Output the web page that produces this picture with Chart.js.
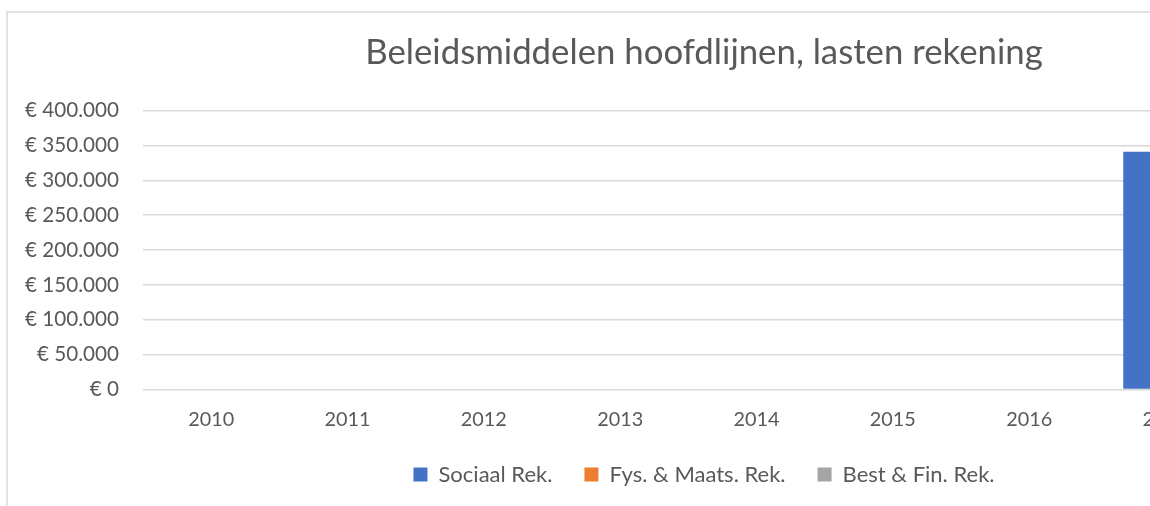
<!DOCTYPE html>
<html><head><meta charset="utf-8">
<script src="https://cdn.jsdelivr.net/npm/chart.js@4.4.0/dist/chart.umd.min.js"></script>
<style>
html,body{margin:0;padding:0;background:#fff;overflow:hidden;width:1150px;height:506px}
#frame{position:absolute;left:6px;top:11px;width:1500px;height:600px;border:2px solid #e2e2e2;box-sizing:border-box}
#wrap{position:absolute;left:0;top:0;width:1408px;height:506px}
</style></head><body>
<div id="frame"></div>
<div id="wrap"><canvas id="c"></canvas></div>
<script>
// ---- data ----
const categories = ['2010', '2011', '2012', '2013', '2014', '2015', '2016', '2017', '2018'];
const sociaalRek = [null, null, null, null, null, null, null, 341000, null];
const fysMaatsRek = [null, null, null, null, null, null, null, null, null];
const bestFinRek = [null, null, null, null, null, null, null, null, null];
const seriesNames = ['Sociaal Rek.', 'Fys. & Maats. Rek.', 'Best & Fin. Rek.'];
const yTicks = [0, 50000, 100000, 150000, 200000, 250000, 300000, 350000, 400000];
const titleText = 'Beleidsmiddelen hoofdlijnen, lasten rekening';

// ---- styling helpers ----
const FAMILY = 'Lato';
const mctx = document.createElement('canvas').getContext('2d');
function fitSize(text, width) {
  mctx.font = '100px ' + FAMILY;
  return 100 * width / mctx.measureText(text).width;
}
function metrics(text, size) {
  mctx.font = size + 'px ' + FAMILY;
  return mctx.measureText(text);
}
function fmt(v) {
  return '€ ' + String(v).replace(/\B(?=(\d{3})+(?!\d))/g, '.');
}

const W = 1408;
const PLOT_LEFT = 143, PLOT_RIGHT = 1370, PLOT_TOP = 110.5, PLOT_BOTTOM = 389.5, H = 506;

const titleSize = fitSize(titleText, 678);
const tm = metrics('B', titleSize);
const titleMid = 66.7 - (tm.fontBoundingBoxAscent - tm.fontBoundingBoxDescent) / 2;
const titlePadTop = titleMid - 0.6 * titleSize;
const titlePadBottom = PLOT_TOP - titlePadTop - 1.2 * titleSize;

const yTickSize = fitSize(fmt(400000), 94);
const xTickSize = fitSize('2010', 46);
const xm = metrics('2010', xTickSize);
const xMid = 420.5 - (xm.fontBoundingBoxAscent - xm.fontBoundingBoxDescent) / 2 + (xm.actualBoundingBoxAscent - xm.actualBoundingBoxDescent) / 2;
const xPad = xMid - PLOT_BOTTOM - 0.6 * xTickSize;

const legendSize = fitSize('Sociaal Rek.', 114);
const lm = metrics('Sociaal Rek.', legendSize);
const legMid = 475 - (lm.fontBoundingBoxAscent - lm.fontBoundingBoxDescent) / 2 + (lm.actualBoundingBoxAscent - lm.actualBoundingBoxDescent) / 2;
const LEG_PAD = 32, BOX = 14;
const itemH = Math.max(legendSize, BOX);
const legTop = legMid - LEG_PAD - itemH / 2;
const legBottom = legTop + itemH + LEG_PAD + 10;
const padBottom = H - legBottom;
const xAxisHeight = legTop - PLOT_BOTTOM;

Chart.defaults.font.family = FAMILY;
Chart.defaults.color = '#595959';

new Chart(document.getElementById('c'), {
  type: 'bar',
  data: {
    labels: categories,
    datasets: [
      { label: seriesNames[0], data: sociaalRek, backgroundColor: '#4472C4', borderWidth: 0 },
      { label: seriesNames[1], data: fysMaatsRek, backgroundColor: '#ED7D31', borderWidth: 0 },
      { label: seriesNames[2], data: bestFinRek, backgroundColor: '#A5A5A5', borderWidth: 0 }
    ]
  },
  options: {
    responsive: true,
    maintainAspectRatio: false,
    animation: false,
    layout: { padding: { left: 0, right: 0, top: 0, bottom: padBottom } },
    datasets: { bar: { categoryPercentage: 0.62, barPercentage: 1 } },
    plugins: {
      title: {
        display: true,
        text: titleText,
        color: '#595959',
        font: { size: titleSize, weight: 'normal', family: FAMILY },
        padding: { top: titlePadTop, bottom: titlePadBottom }
      },
      legend: {
        position: 'bottom',
        labels: {
          boxWidth: BOX, boxHeight: BOX,
          padding: LEG_PAD,
          color: '#595959',
          font: { size: legendSize, family: FAMILY }
        }
      },
      tooltip: { enabled: false }
    },
    scales: {
      x: {
        grid: { display: false, drawTicks: false },
        border: { display: false },
        ticks: { padding: xPad, font: { size: xTickSize }, color: '#595959', maxRotation: 0, autoSkip: false },
        afterFit: s => { s.height = xAxisHeight; }
      },
      y: {
        min: yTicks[0],
        max: yTicks[yTicks.length - 1],
        grid: { color: '#d9d9d9', lineWidth: 1.4, drawTicks: false },
        border: { display: false },
        ticks: {
          stepSize: yTicks[1] - yTicks[0],
          padding: 24,
          font: { size: yTickSize },
          color: '#595959',
          callback: v => fmt(v)
        },
        afterFit: s => { s.width = PLOT_LEFT; }
      },
      // empty right-hand margin (no marks, no labels)
      spacer: {
        type: 'linear',
        position: 'right',
        grid: { display: false, drawTicks: false },
        border: { display: false },
        ticks: { display: false },
        afterFit: s => { s.width = W - PLOT_RIGHT; }
      }
    }
  }
});
</script>
</body></html>
